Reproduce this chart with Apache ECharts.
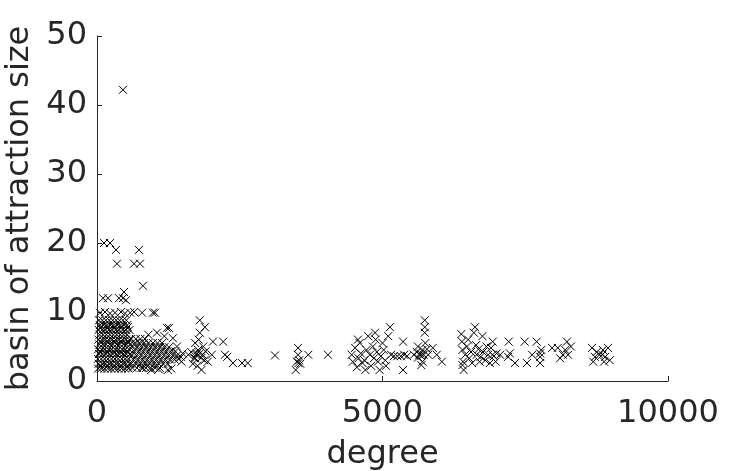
<!DOCTYPE html>
<html>
<head>
<meta charset="utf-8">
<script src="https://cdn.jsdelivr.net/npm/echarts@6/dist/echarts.min.js"></script>
<style>
  html, body { margin: 0; padding: 0; background: #fff; }
  #basin { width: 739px; height: 471px; }
</style>
</head>
<body>
<div id="basin"></div>
<script>
// outliers and sparse points above the main mass
var outliers = [
    [455, 42.2], [123, 20], [228, 20], [333, 19], [735, 19],
    [350, 17], [648, 17], [753, 17], [805, 13.8],
    [105, 12], [193, 12], [385, 12], [455, 12], [508, 11.7], [473, 12.9],
    [53, 9.9], [140, 10], [228, 9.8], [315, 9.9], [420, 10], [490, 9.8],
    [580, 9.9], [650, 10], [790, 9.9], [980, 9.9], [1015, 9.9]
];

// dense mass at low degree
var lowDegree = [
    [20, 1.8], [70, 1.8], [130, 1.8], [190, 1.8], [250, 1.8], [310, 1.8], [370, 1.8], [430, 1.8], [490, 1.8], [550, 1.8],
    [30, 2.5], [90, 2.5], [150, 2.5], [210, 2.5], [270, 2.5], [330, 2.5], [390, 2.5], [450, 2.5], [510, 2.5], [570, 2.5],
    [15, 3.2], [75, 3.2], [135, 3.2], [195, 3.2], [255, 3.2], [315, 3.2], [375, 3.2], [435, 3.2], [495, 3.2], [555, 3.2],
    [35, 3.9], [95, 3.9], [155, 3.9], [215, 3.9], [275, 3.9], [335, 3.9], [395, 3.9], [455, 3.9], [515, 3.9], [575, 3.9],
    [20, 4.6], [80, 4.6], [140, 4.6], [200, 4.6], [260, 4.6], [320, 4.6], [380, 4.6], [440, 4.6], [500, 4.6], [560, 4.6],
    [40, 5.3], [100, 5.3], [160, 5.3], [220, 5.3], [280, 5.3], [340, 5.3], [400, 5.3], [460, 5.3], [520, 5.3], [580, 5.3],
    [25, 6.0], [85, 6.0], [145, 6.0], [205, 6.0], [265, 6.0], [325, 6.0], [385, 6.0], [445, 6.0], [505, 6.0], [565, 6.0],
    [45, 6.7], [105, 6.7], [165, 6.7], [225, 6.7], [285, 6.7], [345, 6.7], [405, 6.7], [465, 6.7], [525, 6.7],
    [30, 7.4], [90, 7.4], [150, 7.4], [210, 7.4], [270, 7.4], [330, 7.4], [390, 7.4], [450, 7.4], [510, 7.4], [570, 7.4],
    [50, 8.1], [110, 8.1], [170, 8.1], [230, 8.1], [290, 8.1], [350, 8.1], [410, 8.1], [470, 8.1], [530, 8.1],
    [35, 8.8], [95, 8.8], [155, 8.8], [215, 8.8], [275, 8.8], [335, 8.8], [395, 8.8], [455, 8.8], [515, 8.8],
    [60, 2.1], [180, 2.1], [300, 2.1], [420, 2.1], [540, 2.1],
    [50, 4.2], [170, 4.2], [290, 4.2], [410, 4.2], [530, 4.2],
    [70, 5.7], [190, 5.7], [310, 5.7], [430, 5.7], [550, 5.7],
    [60, 7.8], [180, 7.8], [300, 7.8], [420, 7.8], [540, 7.8]
];

// band from about 600 to 1400
var band = [
    [620, 1.9], [700, 1.9], [780, 1.9], [860, 1.9], [940, 1.9], [1020, 1.9], [1100, 1.9],
    [600, 2.5], [680, 2.5], [760, 2.5], [840, 2.5], [920, 2.5], [1000, 2.5], [1080, 2.5], [1160, 2.5], [1240, 2.5],
    [640, 3.1], [720, 3.1], [800, 3.1], [880, 3.1], [960, 3.1], [1040, 3.1], [1120, 3.1], [1200, 3.1], [1280, 3.1], [1360, 3.1],
    [610, 3.7], [690, 3.7], [770, 3.7], [850, 3.7], [930, 3.7], [1010, 3.7], [1090, 3.7], [1170, 3.7], [1250, 3.7], [1330, 3.7], [1400, 3.7],
    [650, 4.3], [730, 4.3], [810, 4.3], [890, 4.3], [970, 4.3], [1050, 4.3], [1130, 4.3], [1210, 4.3], [1290, 4.3], [1370, 4.3],
    [620, 4.9], [700, 4.9], [780, 4.9], [860, 4.9], [940, 4.9], [1020, 4.9], [1100, 4.9], [1180, 4.9], [1260, 4.9],
    [660, 5.5], [740, 5.5], [820, 5.5], [900, 5.5], [980, 5.5], [1060, 5.5], [1140, 5.5],
    [600, 6.1], [680, 6.1], [760, 6.1], [840, 6.1],
    [900, 6.7], [1050, 7], [1225, 7.7], [1260, 7.7], [1180, 6.5], [1330, 6.2], [1400, 5], [1430, 3.2],
    [1300, 1.8], [1240, 1.6], [1080, 1.7], [950, 1.6], [805, 1.9]
];

// clusters at higher degree
var midDegree = [
    [1470, 3.5], [1500, 4], [1480, 2.8], [1600, 3.8], [1650, 4.2], [1680, 2.5], [1700, 3.3], [1720, 5.5],
    [1720, 3.3], [1740, 3.8], [1750, 4], [1760, 2.2], [1770, 4.5], [1780, 6], [1800, 8.8], [1800, 7],
    [1800, 4], [1820, 3.3], [1830, 1.6], [1850, 3.8], [1860, 5], [1890, 7.8], [1880, 3], [1900, 4.3],
    [2030, 5.7], [2210, 5.7], [2010, 3.8], [2240, 3.8], [2280, 3.5], [1940, 2.8], [2380, 2.6], [2540, 2.6],
    [2640, 2.6], [3117, 3.7],
    [3520, 4.8], [3520, 3.8], [3500, 2.8], [3530, 2.6], [3560, 2.5], [3540, 3], [3480, 1.6], [3700, 3.8], [4045, 3.8]
];

var highDegree = [
    [4460, 3.8], [4480, 2.8], [4520, 4.8], [4550, 2], [4570, 6], [4580, 3.3], [4600, 5.5], [4620, 4],
    [4650, 2.6], [4680, 3], [4700, 1.6], [4720, 4.5], [4750, 6.5], [4780, 3.8], [4800, 2.2], [4830, 5],
    [4850, 3.3], [4870, 7], [4880, 6], [4900, 4.2], [4920, 2.8], [4950, 1.6], [4970, 3.6], [5000, 5.5],
    [5020, 4.5], [5050, 3], [5060, 2.2], [5100, 6.5], [5130, 7.8], [5150, 3.8], [5200, 3.6], [5260, 3.6],
    [5320, 3.6], [5360, 5.7], [5380, 3.8], [5360, 1.6], [5430, 3.6],
    [5550, 3.8], [5600, 4.2], [5620, 3.4], [5650, 3.8], [5660, 4], [5680, 3.6], [5700, 4.5], [5700, 2.8],
    [5720, 3.8], [5740, 8.8], [5740, 7.8], [5740, 7], [5750, 5.5], [5680, 2.3], [5780, 4.6], [5800, 3.8],
    [5620, 5], [5880, 4.8], [5950, 3.8], [6040, 2.8],
    [6380, 6.8], [6390, 5.7], [6400, 4.5], [6410, 2.8], [6400, 2.3], [6420, 1.6], [6450, 3.8], [6480, 5],
    [6500, 6], [6520, 3.3], [6550, 4.2], [6570, 2.6], [6600, 7], [6620, 7.8], [6640, 5.2], [6650, 3.8],
    [6680, 4.6], [6700, 2.8], [6720, 3.5], [6750, 6.5], [6760, 4.2], [6800, 3], [6820, 5], [6850, 3.8],
    [6880, 2.6], [6900, 4.8], [6930, 5.7], [6930, 3.8], [6950, 3.6], [6980, 2.8], [7000, 4], [7060, 3.8],
    [7210, 5.7], [7230, 4], [7200, 3.5], [7320, 2.6], [7490, 5.7], [7530, 2.6], [7620, 3.8], [7700, 5.7],
    [7760, 4], [7760, 3.5], [7760, 2.6], [7780, 4.5], [7970, 4.8], [8070, 4.8], [8110, 3.3], [8160, 3.8],
    [8230, 5.7], [8250, 3.8], [8200, 4.5], [8300, 5], [8670, 4.8], [8690, 2.8], [8720, 3.5], [8750, 4.2],
    [8800, 3.8], [8850, 3.8], [8860, 4.5], [8880, 2.8], [8900, 3.5], [8950, 4.8], [8980, 3]
];

var xTicks = { min: 0, max: 10000, interval: 5000 };
var yTicks = { min: 0, max: 50, interval: 10 };

var allPoints = outliers.concat(lowDegree, band, midDegree, highDegree);

var ink = '#262626';
var font = 'DejaVu Sans';

var myChart = echarts.init(document.getElementById('basin'));
myChart.setOption({
    animation: false,
    backgroundColor: '#fff',
    grid: { left: 97, right: 71, top: 36, bottom: 90, outerBoundsMode: 'none', containLabel: false },
    xAxis: {
        type: 'value',
        min: xTicks.min,
        max: xTicks.max,
        interval: xTicks.interval,
        name: 'degree',
        nameLocation: 'middle',
        nameGap: 58,
        nameTextStyle: { fontSize: 32, color: ink, fontFamily: font },
        axisLine: { lineStyle: { color: ink, width: 1 } },
        axisTick: { inside: true, length: 5, lineStyle: { color: ink } },
        axisLabel: {
            fontSize: 32, color: ink, fontFamily: font, margin: 17,
            formatter: function (v) { return String(v); }
        },
        splitLine: { show: false }
    },
    yAxis: {
        type: 'value',
        min: yTicks.min,
        max: yTicks.max,
        interval: yTicks.interval,
        name: 'basin of attraction size',
        nameLocation: 'middle',
        nameGap: 50,
        nameTextStyle: { fontSize: 32, color: ink, fontFamily: font },
        axisLine: { show: true, lineStyle: { color: ink, width: 1 } },
        axisTick: { show: true, inside: true, length: 5, lineStyle: { color: ink } },
        axisLabel: { fontSize: 32, color: ink, fontFamily: font, margin: 10 },
        splitLine: { show: false }
    },
    series: [{
        type: 'scatter',
        data: allPoints,
        symbol: 'path://M0,0L10,10M10,0L0,10',
        symbolSize: 8,
        itemStyle: {
            color: '#000',
            borderColor: '#000',
            borderWidth: 1,
            opacity: 1
        }
    }]
});
</script>
</body>
</html>
